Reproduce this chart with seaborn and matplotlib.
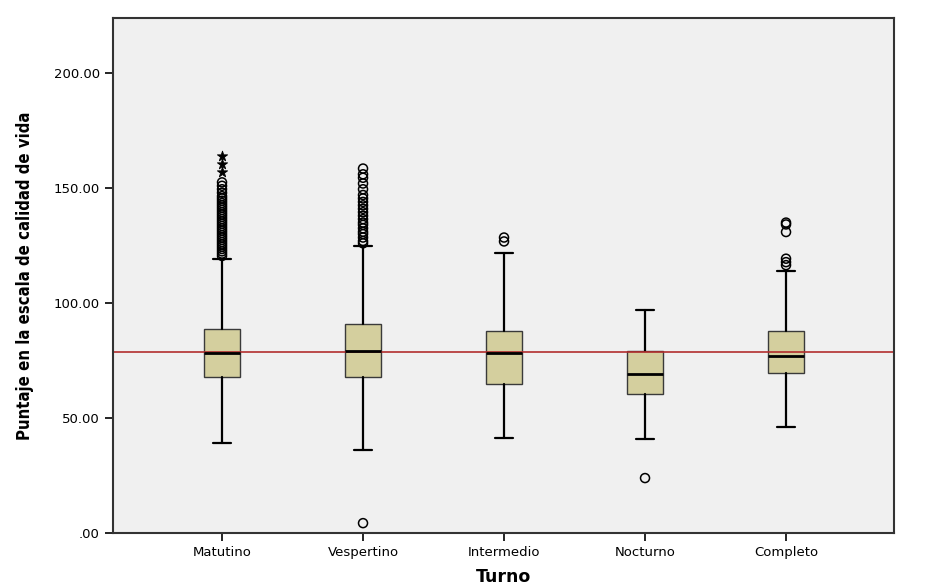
import pandas as pd
import numpy as np
import matplotlib
matplotlib.use("Agg")
import matplotlib.pyplot as plt
import seaborn as sns
from matplotlib.ticker import FuncFormatter

# datos (resumen de cinco numeros por turno)
turnos = ["Matutino", "Vespertino", "Intermedio", "Nocturno", "Completo"]
bigote_inf = [39.1, 36.1, 41.3, 40.9, 46.1]
q1 = [67.8, 67.8, 64.8, 60.4, 69.6]
mediana = [78.3, 79.1, 78.3, 69.1, 77.0]
q3 = [88.7, 90.9, 87.8, 79.1, 87.8]
bigote_sup = [119.2, 124.8, 121.7, 97.0, 113.9]
media_general = 78.7

# valores atipicos (circulos) y extremos (asteriscos)
atip_matutino = [120.5, 121.5, 122.5, 123.5, 124.5, 125.5, 126.5, 127.5, 128.5, 129.5,
                 130.5, 131.5, 132.5, 133.5, 134.5, 135.5, 136.5, 137.5, 138.5, 139.5,
                 140.5, 141.5, 142.5, 143.5, 144.5, 145.5, 146.5, 148.0, 149.5, 151.0, 152.5]
ext_matutino = [156.9, 160.4, 163.9]
atip_vespertino = [126.0, 127.0, 128.5, 130.0, 131.0, 132.5, 134.0, 135.0, 136.5, 138.0,
                   139.5, 141.0, 142.5, 144.0, 145.5, 147.0, 149.5, 152.0, 154.5, 156.0, 158.5]
atip_intermedio = [126.8, 128.5]
atip_nocturno = [23.9]
atip_completo = [116.5, 117.8, 119.3, 130.9, 134.2, 135.0]
atip_vespertino_bajo = [4.3]

sns.set_style("ticks", {"axes.facecolor": "#F0F0F0", "axes.edgecolor": "#333333"})
plt.rcParams["font.family"] = ["DejaVu Sans"]

fig = plt.figure(figsize=(9.28, 5.88), dpi=100)
ax = fig.add_axes([0.1218, 0.0935, 0.8416, 0.876])

stats = []
for i, t in enumerate(turnos):
    stats.append({"label": t, "whislo": bigote_inf[i], "q1": q1[i], "med": mediana[i],
                  "q3": q3[i], "whishi": bigote_sup[i], "fliers": []})

ax.bxp(stats, positions=range(len(turnos)), widths=0.255, capwidths=0.125,
       patch_artist=True, showfliers=False,
       boxprops=dict(facecolor="#D4CF9E", edgecolor="#3a3a3a", linewidth=1.0),
       medianprops=dict(color="black", linewidth=2.0),
       whiskerprops=dict(color="black", linewidth=1.6),
       capprops=dict(color="black", linewidth=1.6))

# outliers
filas = []
listas = {"Matutino": atip_matutino, "Vespertino": atip_vespertino + atip_vespertino_bajo,
          "Intermedio": atip_intermedio, "Nocturno": atip_nocturno, "Completo": atip_completo}
for t, vals in listas.items():
    for v in vals:
        filas.append({"pos": turnos.index(t), "valor": v})
df_atip = pd.DataFrame(filas)
sns.scatterplot(data=df_atip, x="pos", y="valor", ax=ax, marker="o", s=42,
                facecolor="none", edgecolor="black", linewidth=1.1, zorder=3)
df_ext = pd.DataFrame({"pos": [0] * len(ext_matutino), "valor": ext_matutino})
sns.scatterplot(data=df_ext, x="pos", y="valor", ax=ax, marker="*", s=60,
                color="black", edgecolor="black", linewidth=0.6, zorder=3)

ax.axhline(media_general, color="#B22E2E", linewidth=1.2, zorder=2)

ax.set_xlim(-0.773, 4.766)
ax.set_ylim(0, 224)
ax.set_yticks([0, 50, 100, 150, 200])
ax.yaxis.set_major_formatter(FuncFormatter(lambda v, p: ".00" if v == 0 else f"{v:.2f}"))
ax.set_xticks(range(len(turnos)))
ax.set_xticklabels(turnos)
ax.tick_params(axis="both", labelsize=9.5, colors="black", length=6, width=1.2)
for s in ax.spines.values():
    s.set_visible(True)
    s.set_linewidth(1.5)

ax.set_xlabel("Turno", fontsize=12.5, fontweight="bold", labelpad=6, color="black")
ax.set_ylabel("Puntaje en la escala de calidad de vida", fontsize=12,
              fontweight="bold", fontstretch="condensed", labelpad=14, color="black")

fig.savefig("out.png", dpi=100)
